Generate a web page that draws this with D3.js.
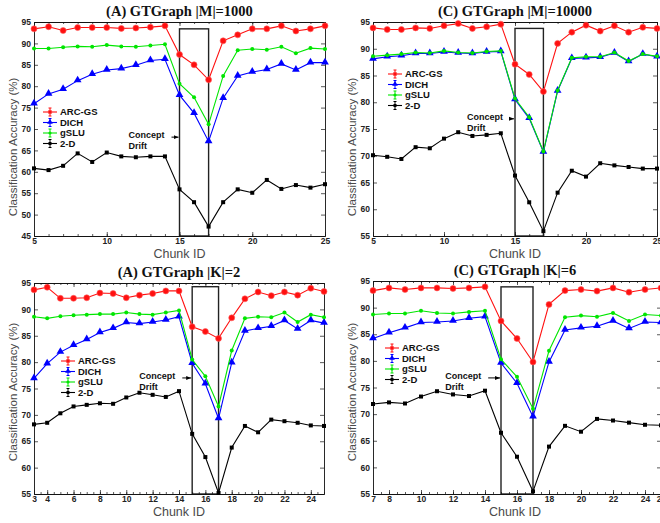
<!DOCTYPE html>
<html>
<head>
<meta charset="utf-8">
<script src="https://cdn.jsdelivr.net/npm/d3@7"></script>
<style>
body { margin: 0; background: #fff; }
svg { display: block; }
</style>
</head>
<body>
<svg id="chart" width="660" height="523"></svg>
<script>
// ---- data ----
var seriesNames = ["ARC-GS", "DICH", "gSLU", "2-D"];

var chunksM1000 = [5,6,7,8,9,10,11,12,13,14,15,16,17,18,19,20,21,22,23,24,25];
var arcM1000  = [93.4,93.9,93.0,93.7,93.7,93.7,93.5,93.6,93.8,94.1,87.4,85.0,81.5,90.6,92.0,93.4,93.4,94.1,92.9,93.4,94.1];
var dichM1000 = [75.9,78.2,79.3,81.3,82.8,83.8,84.1,84.9,86.0,86.3,77.9,73.7,67.1,77.2,82.4,83.3,83.9,85.2,83.8,85.5,85.5];
var gsluM1000 = [88.8,88.8,89.1,89.3,89.2,89.6,89.3,89.2,89.5,89.8,80.6,77.4,71.1,82.4,88.4,88.7,88.5,89.2,87.7,88.9,88.7];
var twoDM1000 = [60.8,60.4,61.4,64.3,62.3,64.5,63.6,63.4,63.6,63.6,55.9,52.9,47.2,52.9,55.9,55.1,58.1,56.0,56.9,56.3,57.1];

var chunksM10000 = [5,6,7,8,9,10,11,12,13,14,15,16,17,18,19,20,21,22,23,24,25];
var arcM10000  = [93.9,93.6,93.6,93.9,93.8,94.3,94.7,93.8,94.1,94.6,87.1,85.2,82.0,91.0,93.1,94.4,93.3,94.3,93.1,94.0,93.8];
var dichM10000 = [88.1,88.5,88.7,89.1,89.1,89.4,89.2,89.1,89.4,89.5,80.5,77.0,70.7,82.1,88.2,88.3,88.4,89.2,87.6,89.0,88.5];
var gsluM10000 = [88.6,88.8,89.0,89.3,89.2,89.6,89.3,89.2,89.5,89.6,80.7,77.2,70.8,82.2,88.3,88.5,88.5,89.3,87.7,89.0,88.6];
var twoDM10000 = [70.1,69.8,69.4,71.6,71.4,73.2,74.4,73.7,73.9,74.2,66.3,61.3,55.9,63.1,67.2,66.1,68.6,68.2,67.9,67.6,67.6];

var chunksK2 = [3,4,5,6,7,8,9,10,11,12,13,14,15,16,17,18,19,20,21,22,23,24,25];
var arcK2  = [93.7,94.2,92.1,92.1,92.2,93.1,93.0,92.2,92.7,93.0,93.5,93.5,86.7,85.8,84.5,88.4,92.0,93.3,92.6,93.3,92.7,94.0,93.4];
var dichK2 = [76.9,79.7,81.9,83.2,84.3,85.6,86.4,87.5,87.3,87.6,88.0,88.6,79.8,75.9,69.3,79.9,85.9,86.4,86.8,87.9,86.3,87.9,87.4];
var gsluK2 = [88.6,88.3,88.7,88.9,89.0,89.1,89.1,89.4,89.1,89.0,89.4,89.8,80.5,77.3,71.6,82.2,88.3,88.6,88.5,89.4,87.6,89.0,88.5];
var twoDK2 = [68.2,68.5,70.3,71.6,71.9,72.2,72.1,73.3,74.2,73.8,73.4,74.5,66.4,62.0,55.2,63.8,67.9,66.7,69.1,68.8,68.5,68.0,67.9];

var chunksK6 = [7,8,9,10,11,12,13,14,15,16,17,18,19,20,21,22,23,24,25];
var arcK6  = [93.2,93.7,93.4,93.7,93.7,93.6,93.7,93.9,87.5,84.2,79.8,90.6,93.2,93.4,93.1,93.7,92.9,93.4,93.7];
var dichK6 = [84.2,85.3,86.2,87.2,87.3,87.5,88.0,88.3,79.6,75.8,69.5,79.8,85.8,86.2,86.5,87.5,86.1,87.3,87.2];
var gsluK6 = [88.7,88.9,88.9,89.4,89.0,88.9,89.2,89.4,80.3,77.0,71.0,81.9,88.2,88.5,88.3,89.0,87.5,88.7,88.5];
var twoDK6 = [71.9,72.2,72.0,73.3,74.3,73.7,73.4,74.4,66.5,62.0,55.5,63.9,67.8,66.7,69.1,68.8,68.4,68.0,67.9];

var ticksM = [5,10,15,20,25];
var ticksK2 = [3,4,6,8,10,12,14,16,18,20,22,24];
var ticksK6 = [7,8,10,12,14,16,18,20,22,24,25];
var driftStart = 15, driftEnd = 17;

var colors = ["#ff1010", "#0000ff", "#00e600", "#000000"];

var panels = [
  {title: "(A) GTGraph |M|=1000", left: 34, right: 325, top: 22, bottom: 236,
   xDomain: [5,25], yDomain: [45,95], xTicks: ticksM, minorStep: 1,
   chunks: chunksM1000, values: [arcM1000, dichM1000, gsluM1000, twoDM1000],
   boxTop: 93.4, arrow: [14.45, 68.1], legend: [9, 90], ylabelY: 147},
  {title: "(C) GTGraph |M|=10000", left: 373, right: 657, top: 22, bottom: 236,
   xDomain: [5,25], yDomain: [55,95], xTicks: ticksM, minorStep: 1,
   chunks: chunksM10000, values: [arcM10000, dichM10000, gsluM10000, twoDM10000],
   boxTop: 93.8, arrow: [14.65, 76.9], legend: [15, 52], ylabelY: 147},
  {title: "(A) GTGraph |K|=2", left: 34, right: 324, top: 283, bottom: 494,
   xDomain: [3,25], yDomain: [55,95], xTicks: ticksK2, minorStep: 0.5,
   chunks: chunksK2, values: [arcK2, dichK2, gsluK2, twoDK2],
   boxTop: 94.3, arrow: [14.25, 77.0], legend: [27, 78], ylabelY: 392},
  {title: "(C) GTGraph |K|=6", left: 373, right: 661, top: 281, bottom: 494,
   xDomain: [7,25], yDomain: [55,95], xTicks: ticksK6, minorStep: 0.5,
   chunks: chunksK6, values: [arcK6, dichK6, gsluK6, twoDK6],
   boxTop: 93.9, arrow: [14.2, 76.8], legend: [12, 67], ylabelY: 392}
];

var svg = d3.select("#chart");
var defs = svg.append("defs");
defs.append("marker")
  .attr("id", "arrowhead")
  .attr("viewBox", "0 0 10 10")
  .attr("refX", 10).attr("refY", 5)
  .attr("markerWidth", 5).attr("markerHeight", 5)
  .attr("orient", "auto")
  .append("path").attr("d", "M0,1L10,5L0,9Z").attr("fill", "#000");

function drawMarker(g, i, cx, cy, small) {
  var c = colors[i];
  if (i == 0) {
    g.append("circle").attr("cx", cx).attr("cy", cy).attr("r", small ? 2 : 3)
      .attr("fill", c).attr("stroke", "#ff6060").attr("stroke-width", 0.6);
  } else if (i == 1) {
    g.append("path").attr("transform", "translate(" + cx + "," + (cy - 0.5) + ")")
      .attr("d", d3.symbol(d3.symbolTriangle, small ? 14 : 26)())
      .attr("fill", c);
  } else if (i == 2) {
    g.append("circle").attr("cx", cx).attr("cy", cy).attr("r", small ? 1.6 : 2)
      .attr("fill", c);
  } else {
    var s = small ? 3 : 4;
    g.append("rect").attr("x", cx - s / 2).attr("y", cy - s / 2)
      .attr("width", s).attr("height", s).attr("fill", c);
  }
}

function drawPanel(p) {
  var g = svg.append("g");
  var x = d3.scaleLinear().domain(p.xDomain).range([p.left, p.right]);
  var y = d3.scaleLinear().domain(p.yDomain).range([p.bottom, p.top]);
  var yTicks = d3.range(p.yDomain[0], p.yDomain[1] + 1, 5);
  var minor = d3.range(p.xDomain[0], p.xDomain[1] + 0.01, p.minorStep);

  // concept drift box
  g.append("rect")
    .attr("x", x(driftStart)).attr("y", y(p.boxTop))
    .attr("width", x(driftEnd) - x(driftStart))
    .attr("height", y(p.yDomain[0]) - y(p.boxTop))
    .attr("fill", "none").attr("stroke", "#222").attr("stroke-width", 1.4);

  // axes (ticks point inward, MATLAB style)
  g.append("g").attr("transform", "translate(0," + p.bottom + ")")
    .call(d3.axisBottom(x).tickValues(p.xTicks).tickSizeInner(-4).tickSizeOuter(0).tickPadding(2));
  g.append("g").attr("transform", "translate(0," + p.bottom + ")")
    .call(d3.axisBottom(x).tickValues(minor).tickSizeInner(-2).tickSizeOuter(0).tickFormat(""));
  g.append("g").attr("transform", "translate(0," + p.top + ")")
    .call(d3.axisTop(x).tickValues(p.xTicks).tickSizeInner(-4).tickSizeOuter(0).tickFormat(""));
  g.append("g").attr("transform", "translate(0," + p.top + ")")
    .call(d3.axisTop(x).tickValues(minor).tickSizeInner(-2).tickSizeOuter(0).tickFormat(""));
  g.append("g").attr("transform", "translate(" + p.left + ",0)")
    .call(d3.axisLeft(y).tickValues(yTicks).tickSizeInner(-4).tickSizeOuter(0).tickPadding(3));
  g.append("g").attr("transform", "translate(" + p.right + ",0)")
    .call(d3.axisRight(y).tickValues(yTicks).tickSizeInner(-4).tickSizeOuter(0).tickFormat(""));

  g.selectAll(".domain").attr("stroke", "#111").attr("stroke-width", 0.9);
  g.selectAll(".tick line").attr("stroke", "#111").attr("stroke-width", 0.7);
  g.selectAll(".tick text")
    .attr("font-family", "Liberation Sans, Arial, sans-serif")
    .attr("font-size", 8.5).attr("font-weight", "bold").attr("fill", "#222");

  // series
  var line = d3.line().x(function(d) { return x(d.c); }).y(function(d) { return y(d.v); });
  p.values.forEach(function(vals, i) {
    var pts = vals.map(function(v, k) { return {c: p.chunks[k], v: v}; });
    g.append("path").datum(pts).attr("d", line)
      .attr("fill", "none").attr("stroke", colors[i]).attr("stroke-width", 1.1);
    pts.forEach(function(d) { drawMarker(g, i, x(d.c), y(d.v), false); });
  });

  // concept drift note
  var ax = x(p.arrow[0]), ay = y(p.arrow[1]);
  g.append("line").attr("x1", ax).attr("y1", ay).attr("x2", x(driftStart) - 1).attr("y2", ay)
    .attr("stroke", "#000").attr("stroke-width", 1).attr("marker-end", "url(#arrowhead)");
  var note = g.append("text").attr("y", ay + 1)
    .attr("font-family", "Liberation Sans, Arial, sans-serif")
    .attr("font-size", 9).attr("font-weight", "bold").attr("fill", "#111");
  var t1 = note.append("tspan").text("Concept");
  var t2 = note.append("tspan").attr("dy", 11).text("Drift");
  var tx = ax - 7 - t1.node().getComputedTextLength();
  t1.attr("x", tx); t2.attr("x", tx);

  // legend
  var lx = p.left + p.legend[0], ly = p.top + p.legend[1];
  seriesNames.forEach(function(name, i) {
    var yy = ly + i * 10.5;
    g.append("line").attr("x1", lx).attr("x2", lx + 14).attr("y1", yy).attr("y2", yy)
      .attr("stroke", colors[i]).attr("stroke-width", 1.1);
    g.append("line").attr("x1", lx + 7).attr("x2", lx + 7).attr("y1", yy - 4).attr("y2", yy + 4)
      .attr("stroke", colors[i]).attr("stroke-width", 1);
    g.append("line").attr("x1", lx + 5.5).attr("x2", lx + 8.5).attr("y1", yy - 4).attr("y2", yy - 4)
      .attr("stroke", colors[i]).attr("stroke-width", 1);
    g.append("line").attr("x1", lx + 5.5).attr("x2", lx + 8.5).attr("y1", yy + 4).attr("y2", yy + 4)
      .attr("stroke", colors[i]).attr("stroke-width", 1);
    drawMarker(g, i, lx + 7, yy, true);
    g.append("text").attr("x", lx + 17).attr("y", yy + 3.3)
      .attr("font-family", "Liberation Sans, Arial, sans-serif")
      .attr("font-size", 9.5).attr("font-weight", "bold").attr("fill", "#111")
      .text(name);
  });

  // title and axis labels
  var cx = (p.left + Math.min(p.right, 657)) / 2;
  g.append("text").attr("x", cx).attr("y", p.top - 6)
    .attr("text-anchor", "middle")
    .attr("font-family", "Liberation Serif, Times New Roman, serif")
    .attr("font-size", 14.5).attr("font-weight", "bold").attr("fill", "#111")
    .text(p.title);
  g.append("text").attr("x", cx).attr("y", p.bottom + 22)
    .attr("text-anchor", "middle")
    .attr("font-family", "Liberation Sans, Arial, sans-serif")
    .attr("font-size", 12.5).attr("fill", "#4a4a4a")
    .text("Chunk ID");
  g.append("text")
    .attr("transform", "translate(" + (p.left - 17) + "," + p.ylabelY + ") rotate(-90)")
    .attr("text-anchor", "middle")
    .attr("font-family", "Liberation Sans, Arial, sans-serif")
    .attr("font-size", 11.5).attr("fill", "#4a4a4a")
    .text("Classification Accuracy (%)");
}

panels.forEach(drawPanel);
</script>
</body>
</html>
